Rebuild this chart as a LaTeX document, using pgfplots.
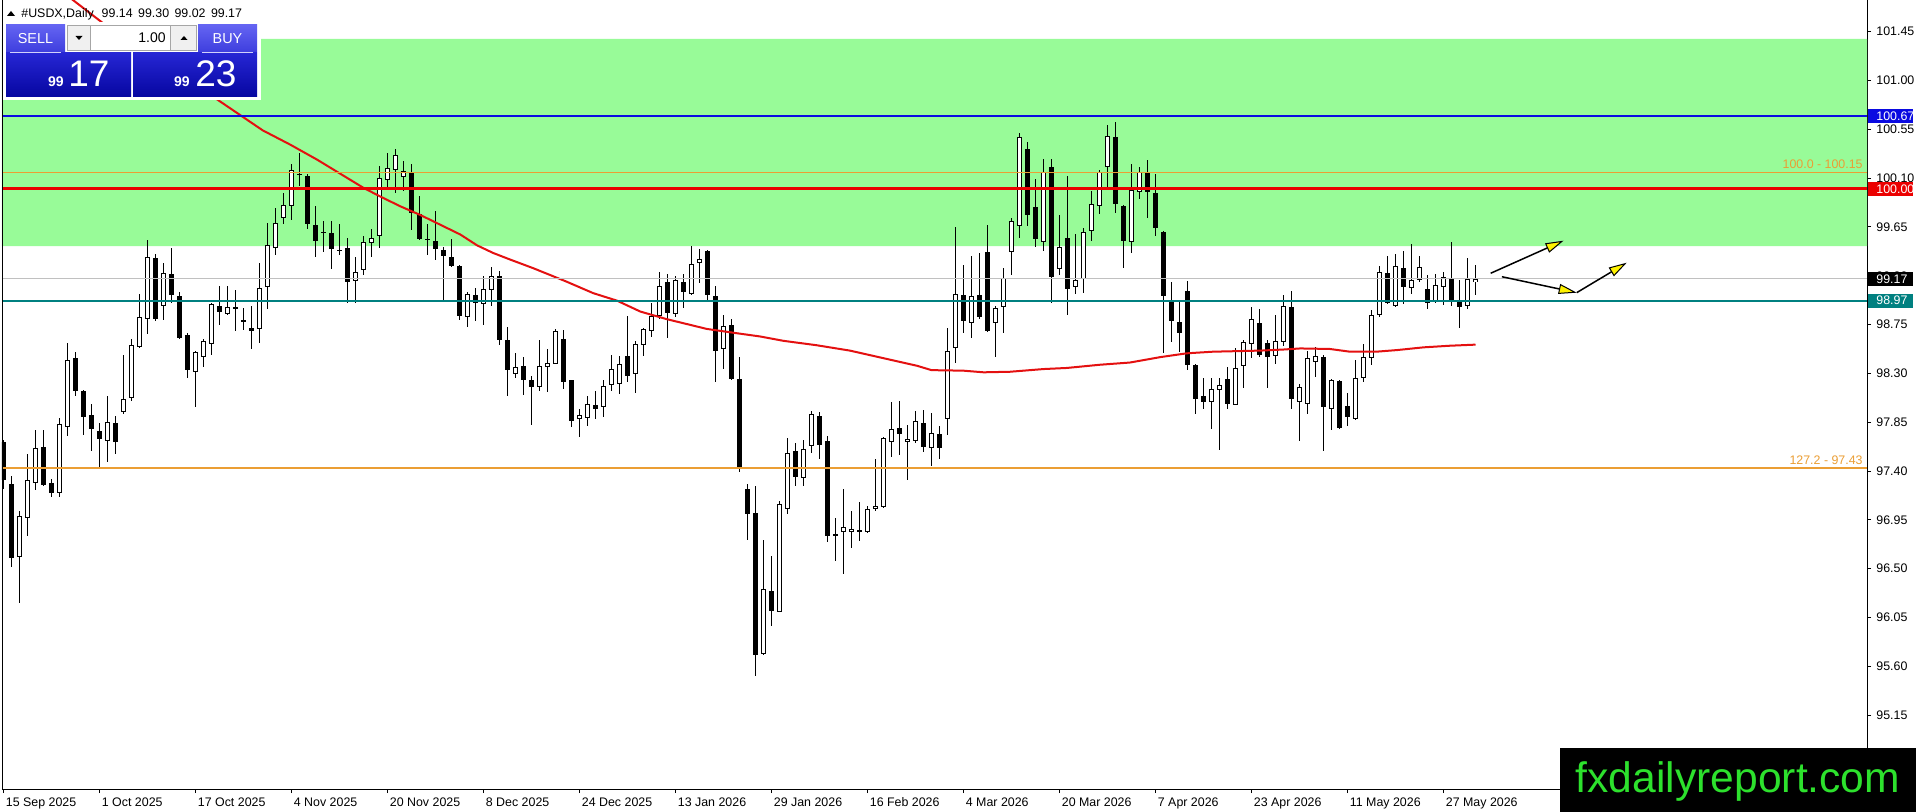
\documentclass[border=0pt]{standalone}
\usepackage{pgfplots}
\pgfplotsset{compat=1.18}
\usepackage{pgfplotstable}
\usepackage{fontspec}
\setmainfont{Liberation Sans}
\usetikzlibrary{arrows.meta}
\definecolor{zone}{RGB}{152,251,152}
\definecolor{mared}{RGB}{228,16,16}
\definecolor{hred}{RGB}{235,0,0}
\definecolor{hblue}{RGB}{10,10,225}
\definecolor{hteal}{RGB}{0,128,128}
\definecolor{hgray}{RGB}{192,192,192}
\definecolor{fibo}{RGB}{235,158,52}
\definecolor{btntop}{RGB}{100,100,242}
\definecolor{btnbot}{RGB}{62,62,222}
\definecolor{boxtop}{RGB}{38,38,212}
\definecolor{boxbot}{RGB}{6,6,160}
\definecolor{wmgreen}{RGB}{45,225,45}
\newcommand{\lab}{\fontsize{6.2}{7}\selectfont}

\pgfplotstableread{
i o h l c
2 96.61 97.03 96.18 96.99
3 96.97 97.56 96.80 97.32
4 97.29 97.78 97.23 97.61
7 97.20 97.89 97.16 97.83
8 97.81 98.58 97.72 98.42
13 97.68 98.09 97.48 97.85
15 97.94 98.47 97.93 98.06
16 98.07 98.62 98.05 98.56
17 98.54 99.03 98.53 98.82
18 98.80 99.53 98.66 99.37
20 98.92 99.32 98.79 99.23
24 98.31 98.51 97.99 98.50
25 98.45 98.62 98.36 98.60
26 98.57 98.95 98.47 98.94
28 98.85 99.11 98.84 98.91
30 98.78 98.90 98.70 98.79
32 98.71 99.32 98.58 99.09
33 99.10 99.69 98.89 99.48
34 99.46 99.82 99.39 99.69
35 99.73 99.96 99.68 99.85
36 99.84 100.23 99.71 100.18
40 99.60 99.71 99.42 99.60
44 99.15 99.37 98.95 99.24
45 99.25 99.57 99.21 99.51
46 99.50 99.63 99.37 99.55
47 99.57 100.21 99.46 100.10
48 100.08 100.33 100.00 100.19
49 100.18 100.37 99.96 100.31
50 100.11 100.26 99.98 100.17
58 98.82 99.05 98.73 99.03
60 98.94 99.20 98.75 99.08
61 99.07 99.28 98.92 99.20
64 98.30 98.49 98.26 98.36
67 98.17 98.61 98.14 98.37
68 98.36 98.53 98.13 98.40
69 98.39 98.71 98.39 98.69
72 97.88 97.97 97.71 97.92
73 97.89 98.09 97.82 98.02
75 97.99 98.24 97.90 98.18
76 98.19 98.47 98.14 98.34
77 98.20 98.46 98.11 98.39
79 98.30 98.60 98.12 98.57
80 98.56 98.72 98.46 98.71
81 98.69 98.95 98.64 98.83
82 98.83 99.24 98.80 99.11
84 98.85 99.20 98.82 99.16
86 99.03 99.47 99.02 99.31
87 99.32 99.45 99.13 99.35
90 98.53 98.84 98.34 98.74
95 95.71 96.76 95.70 96.31
97 96.10 97.12 96.10 97.10
98 97.05 97.70 97.00 97.57
100 97.34 97.69 97.26 97.60
101 97.63 97.95 97.57 97.93
104 96.81 96.97 96.57 96.82
105 96.84 97.23 96.45 96.88
106 96.84 97.03 96.69 96.87
108 96.84 97.08 96.83 97.05
109 97.05 97.51 97.03 97.08
110 97.07 97.71 97.06 97.70
111 97.67 98.04 97.53 97.79
113 97.67 97.82 97.32 97.70
114 97.68 97.95 97.66 97.86
116 97.61 97.94 97.45 97.75
118 97.88 98.72 97.73 98.51
119 98.53 99.65 98.40 99.03
121 98.76 99.38 98.63 99.01
124 98.76 98.92 98.45 98.90
125 98.91 99.27 98.67 99.18
126 99.42 99.73 99.21 99.71
127 99.66 100.52 99.55 100.48
130 99.51 100.28 99.43 100.16
132 99.26 99.76 99.21 99.47
134 99.10 99.59 99.03 99.16
135 99.17 99.64 99.04 99.60
136 99.61 99.98 99.52 99.86
137 99.84 100.18 99.77 100.16
138 100.20 100.59 100.02 100.49
141 99.51 100.23 99.41 99.99
142 99.97 100.20 99.91 100.16
151 98.04 98.26 97.79 98.16
152 98.15 98.26 97.59 98.19
154 98.01 98.53 98.01 98.35
155 98.37 98.61 98.17 98.59
156 98.57 98.91 98.44 98.80
159 98.46 98.84 98.39 98.60
160 98.59 99.02 98.55 98.92
162 98.04 98.20 97.68 98.17
163 98.02 98.51 97.93 98.44
164 98.41 98.54 98.27 98.46
166 97.97 98.25 97.78 98.24
169 97.88 98.42 97.87 98.26
170 98.26 98.57 98.22 98.45
171 98.44 98.88 98.38 98.84
172 98.84 99.29 98.82 99.24
174 98.92 99.40 98.91 99.29
176 99.09 99.49 99.03 99.16
177 99.16 99.38 99.14 99.28
179 98.96 99.22 98.95 99.12
180 99.10 99.23 98.93 99.19
183 98.92 99.36 98.89 99.17
184 99.14 99.30 99.02 99.17
}\up

\pgfplotstableread{
i o h l c
0 97.67 97.69 97.23 97.32
1 97.28 97.35 96.52 96.60
5 97.62 97.78 97.26 97.27
6 97.29 97.33 97.16 97.20
9 98.44 98.50 98.09 98.14
10 98.14 98.15 97.73 97.90
11 97.92 98.02 97.59 97.79
12 97.77 97.84 97.44 97.70
14 97.84 97.91 97.56 97.67
19 99.36 99.40 98.78 98.80
21 99.22 99.46 98.95 99.02
22 99.01 99.05 98.62 98.63
23 98.65 98.67 98.26 98.33
27 98.92 99.11 98.75 98.87
29 98.91 99.07 98.69 98.90
31 98.72 98.92 98.53 98.69
37 100.14 100.33 100.03 100.13
38 100.12 100.14 99.63 99.68
39 99.67 99.84 99.37 99.52
41 99.59 99.71 99.26 99.45
42 99.44 99.68 99.39 99.43
43 99.46 99.55 98.95 99.14
51 100.15 100.23 99.62 99.78
52 99.77 99.94 99.53 99.54
53 99.54 99.68 99.39 99.53
54 99.52 99.80 99.35 99.45
55 99.44 99.47 98.97 99.38
56 99.37 99.54 99.28 99.29
57 99.29 99.30 98.79 98.83
59 99.02 99.09 98.78 98.95
62 99.20 99.24 98.56 98.61
63 98.61 98.73 98.09 98.33
65 98.37 98.45 98.10 98.24
66 98.24 98.28 97.82 98.18
70 98.62 98.70 98.16 98.22
71 98.24 98.24 97.81 97.86
74 98.01 98.14 97.88 97.97
78 98.46 98.83 98.22 98.28
83 99.14 99.22 98.63 98.86
85 99.14 99.22 98.90 99.05
88 99.43 99.44 98.98 99.02
89 99.01 99.11 98.22 98.51
91 98.75 98.80 98.24 98.25
92 98.25 98.45 97.39 97.43
93 97.23 97.28 96.76 97.00
94 97.01 97.26 95.51 95.70
96 96.30 96.62 95.97 96.11
99 97.59 97.66 97.26 97.35
102 97.91 97.94 97.51 97.64
103 97.68 97.72 96.75 96.80
107 96.86 97.12 96.76 96.84
112 97.80 98.05 97.55 97.74
115 97.84 97.96 97.58 97.62
117 97.74 97.82 97.51 97.61
120 99.02 99.30 98.67 98.78
122 99.02 99.41 98.80 98.82
123 99.42 99.67 98.68 98.69
128 100.37 100.43 99.66 99.76
129 99.83 100.09 99.47 99.54
131 100.20 100.28 98.95 99.19
133 99.55 100.12 98.84 99.08
139 100.48 100.62 99.78 99.86
140 99.84 99.85 99.27 99.52
143 100.15 100.27 99.73 99.97
144 99.96 100.14 99.57 99.64
145 99.60 99.61 98.49 99.01
146 98.97 99.14 98.59 98.78
147 98.77 98.96 98.50 98.67
148 99.06 99.15 98.33 98.38
149 98.38 98.39 97.93 98.06
150 98.09 98.26 97.97 98.04
153 98.25 98.36 97.97 98.02
157 98.76 98.89 98.45 98.47
158 98.58 98.61 98.17 98.45
161 98.91 99.06 97.97 98.06
165 98.45 98.47 97.59 97.99
167 98.23 98.24 97.79 97.80
168 98.00 98.12 97.82 97.90
173 99.23 99.38 98.94 98.95
175 99.27 99.43 98.94 99.10
178 99.08 99.21 98.89 98.95
181 99.18 99.51 98.92 98.98
182 98.97 99.16 98.72 98.91
}\down

\pgfplotsset{
  candlebar/.style 2 args={draw=none, mark=none, forget plot,
    error bars/.cd, y dir=both, y explicit, error mark=none,
    error bar style={draw=#1, solid, line width=#2, line cap=butt}},
}

\begin{document}
\begin{tikzpicture}
\path[use as bounding box] (0,0) rectangle (958pt,-406pt);
\clip (0,0) rectangle (958pt,-406pt);
\fill[white] (0,0) rectangle (958pt,-406pt);
\begin{axis}[
  at={(1pt,-394.5pt)}, anchor=south west,
  scale only axis, width=932.5pt, height=394.5pt,
  xmin=-0.1875, xmax=232.9375, ymin=94.4695, ymax=101.7414,
  axis x line*=bottom, axis y line*=right,
  axis line style={black, line width=0.5pt},
  xtick={0,12,24,36,48,60,72,84,96,108,120,132,144,156,168,180},
  ytick={95.15,95.60,96.05,96.50,96.95,97.40,97.85,98.30,98.75,99.20,99.65,100.10,100.55,101.00,101.45},
  xticklabel=\empty, yticklabel=\empty,
  tick align=outside, major tick length=2pt,
  tick style={black, line width=0.5pt},
]
% support / resistance zone
\addplot[draw=none, fill=zone] coordinates {(-0.1875,99.474) (232.9375,99.474) (232.9375,101.382) (-0.1875,101.382) (-0.1875,99.474)};
% wicks
\addplot[candlebar={black}{0.5pt}]
  table[x=i, y expr={(\thisrow{h}+\thisrow{l})/2}, y error expr={(\thisrow{h}-\thisrow{l})/2}] {\up};
\addplot[candlebar={black}{0.5pt}]
  table[x=i, y expr={(\thisrow{h}+\thisrow{l})/2}, y error expr={(\thisrow{h}-\thisrow{l})/2}] {\down};
% bodies (outline / filled)
\addplot[candlebar={black}{2.5pt}]
  table[x=i, y expr={(\thisrow{o}+\thisrow{c})/2}, y error expr={max(abs(\thisrow{c}-\thisrow{o})/2,0.0046)}] {\up};
\addplot[candlebar={black}{2.5pt}]
  table[x=i, y expr={(\thisrow{o}+\thisrow{c})/2}, y error expr={max(abs(\thisrow{c}-\thisrow{o})/2,0.0046)}] {\down};
% white interior of bullish candles
\addplot[candlebar={white}{1.5pt}]
  table[x=i, y expr={(\thisrow{o}+\thisrow{c})/2}, y error expr={max(abs(\thisrow{c}-\thisrow{o})/2-0.0092,0)}] {\up};
% moving average
\addplot[mared, line width=1pt, line join=round] coordinates {
(6,101.90) (8.7,101.74) (12.4,101.53) (19,101.18) (26.4,100.84) (32.4,100.54) (35.8,100.41)
(39.2,100.27) (42.1,100.14) (45.0,100.01) (47.1,99.93) (49.6,99.84) (52.1,99.76)
(54.6,99.67) (57.1,99.58) (59.2,99.48) (61.2,99.41) (63.3,99.35) (66.2,99.27)
(70.4,99.145) (73.7,99.04) (76.7,98.97) (79.6,98.87) (82.9,98.80) (85.4,98.755)
(87.9,98.71) (91.2,98.675) (94.6,98.64) (97.5,98.60) (101.6,98.56) (105.8,98.51)
(110.0,98.44) (114.2,98.37) (116.0,98.33) (120.0,98.325) (122.5,98.31) (125.8,98.315)
(130.0,98.34) (132.9,98.35) (137.1,98.38) (140.8,98.40) (144.6,98.45) (147.9,98.485)
(151.2,98.50) (157.1,98.51) (160.0,98.52) (162.1,98.53) (165.8,98.525) (168.3,98.50)
(171.6,98.50) (174.2,98.515) (177.5,98.54) (180.8,98.555) (184.0,98.565)};
% horizontal levels
\addplot[hgray, line width=0.5pt] coordinates {(-0.1875,99.17) (232.9375,99.17)};
\addplot[hteal, line width=1pt] coordinates {(-0.1875,98.97) (232.9375,98.97)};
\addplot[hblue, line width=1pt] coordinates {(-0.1875,100.67) (232.9375,100.67)};
\addplot[fibo, line width=0.6pt] coordinates {(-0.1875,100.15) (232.9375,100.15)};
\addplot[hred, line width=1.5pt] coordinates {(-0.1875,100.00) (232.9375,100.00)};
\addplot[fibo, line width=1pt] coordinates {(-0.1875,97.43) (232.9375,97.43)};
% projection arrows
\addplot[black, line width=0.75pt, -{Triangle[length=9pt,width=5pt,fill=yellow,line width=0.5pt]}] coordinates {(185.9,99.223) (195.0,99.523)};
\addplot[black, line width=0.75pt, -{Triangle[length=9pt,width=5pt,fill=yellow,line width=0.5pt]}] coordinates {(187.3,99.191) (196.65,99.044)};
\addplot[black, line width=0.75pt, -{Triangle[length=9pt,width=5pt,fill=yellow,line width=0.5pt]}] coordinates {(196.65,99.044) (202.9,99.32)};
\end{axis}

\begin{scope}[x=0.5pt,y=-0.5pt]
% left border
\draw[black, line width=0.5pt] (2.5,0) -- (2.5,789);
% price labels
\foreach \v in {95.15,95.60,96.05,96.50,96.95,97.40,97.85,98.30,98.75,99.20,99.65,100.10,100.55,101.00,101.45}
  \node[anchor=west, inner sep=0pt, font=\lab] at (1876,{(101.7414-\v)*108.5}) {\v};
% level tags on price scale
\foreach \v/\col in {100.67/hblue, 100.00/hred, 99.17/black, 98.97/hteal}{
  \fill[\col] (1868,{(101.7414-\v)*108.5-7}) rectangle (1913,{(101.7414-\v)*108.5+7});
  \node[anchor=west, inner sep=0pt, font=\lab, white] at (1876,{(101.7414-\v)*108.5}) {\v};
}
% fibo texts
\node[anchor=base east, inner sep=0pt, font=\lab, text=fibo] at (1863,169) {100.0 - 100.15};
\node[anchor=base east, inner sep=0pt, font=\lab, text=fibo] at (1863,465) {127.2 - 97.43};
% date labels
\foreach \k/\d in {0/15 Sep 2025, 12/1 Oct 2025, 24/17 Oct 2025, 36/4 Nov 2025, 48/20 Nov 2025, 60/8 Dec 2025, 72/24 Dec 2025, 84/13 Jan 2026, 96/29 Jan 2026, 108/16 Feb 2026, 120/4 Mar 2026, 132/20 Mar 2026, 144/7 Apr 2026, 156/23 Apr 2026, 168/11 May 2026, 180/27 May 2026}
  \node[anchor=base west, inner sep=0pt, font=\lab] at ({3.5+8*\k+2},806) {\d};
% title
\fill[black] (7,16) -- (15,16) -- (11,11) -- cycle;
\node[anchor=base west, inner sep=0pt, font=\lab] at (21,17.5) {\#USDX,Daily\hspace{4pt}99.14\hspace{2.7pt}99.30\hspace{2.7pt}99.02\hspace{2.7pt}99.17};
% one-click trading panel
\fill[white] (3,22) rectangle (261,100);
\shade[top color=btntop, bottom color=btnbot] (6,25) rectangle (65,52);
\node[white, font=\fontsize{7.2}{8}\selectfont] at (35.5,38.5) {SELL};
\shade[top color=btntop, bottom color=btnbot] (198,25) rectangle (257,52);
\node[white, font=\fontsize{7.2}{8}\selectfont] at (227.5,38.5) {BUY};
\fill[black!6] (67,25) rectangle (197,51);
\fill[white] (91,26) rectangle (170,50);
\draw[black!35, line width=0.5pt] (67.5,25.5) rectangle (196.5,50.5);
\draw[black!35, line width=0.5pt] (90.5,25.5) -- (90.5,50.5);
\draw[black!35, line width=0.5pt] (170.5,25.5) -- (170.5,50.5);
\fill[black] (75.5,36) -- (82.5,36) -- (79,40) -- cycle;
\fill[black] (180.5,40) -- (187.5,40) -- (184,36) -- cycle;
\node[anchor=base east, inner sep=0pt, font=\fontsize{7}{8}\selectfont] at (166,43) {1.00};
\shade[top color=boxtop, bottom color=boxbot] (6,53) rectangle (131,97);
\shade[top color=boxtop, bottom color=boxbot] (133,53) rectangle (257,97);
\draw[white!70!btntop, line width=0.5pt] (10,52.5) -- (61,52.5);
\draw[white!70!btntop, line width=0.5pt] (202,52.5) -- (253,52.5);
\node[anchor=base east, inner sep=0pt, white, font=\fontsize{7}{8}\selectfont\bfseries] at (64,87) {99};
\node[anchor=base west, inner sep=0pt, white, font=\fontsize{18.5}{20}\selectfont] at (68,87) {17};
\node[anchor=base east, inner sep=0pt, white, font=\fontsize{7}{8}\selectfont\bfseries] at (190,87) {99};
\node[anchor=base west, inner sep=0pt, white, font=\fontsize{18.5}{20}\selectfont] at (195,87) {23};
% watermark
\fill[black] (1560,748) rectangle (1916,812);
\node[text=wmgreen, font=\fontsize{21.3}{24}\selectfont] at (1738,781) {fxdailyreport.com};
\end{scope}
\end{tikzpicture}
\end{document}
